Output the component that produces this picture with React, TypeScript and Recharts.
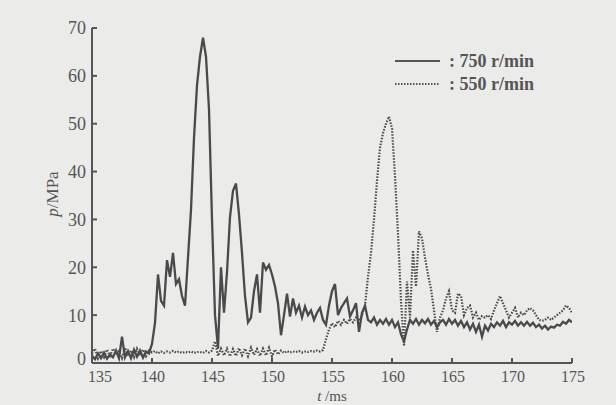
import React from "react";
import { LineChart, Line, XAxis, YAxis } from "recharts";

const times = [
  135, 135.25, 135.5, 135.75, 136, 136.25, 136.5, 136.75, 137, 137.25, 137.5, 137.75,
  138, 138.25, 138.5, 138.75, 139, 139.25, 139.5, 139.75, 140, 140.25, 140.5, 140.75,
  141, 141.25, 141.5, 141.75, 142, 142.25, 142.5, 142.75, 143, 143.25, 143.5, 143.75,
  144, 144.25, 144.5, 144.75, 145, 145.25, 145.5, 145.75, 146, 146.25, 146.5, 146.75,
  147, 147.25, 147.5, 147.75, 148, 148.25, 148.5, 148.75, 149, 149.25, 149.5, 149.75,
  150, 150.25, 150.5, 150.75, 151, 151.25, 151.5, 151.75, 152, 152.25, 152.5, 152.75,
  153, 153.25, 153.5, 153.75, 154, 154.25, 154.5, 154.75, 155, 155.25, 155.5, 155.75,
  156, 156.25, 156.5, 156.75, 157, 157.25, 157.5, 157.75, 158, 158.25, 158.5, 158.75,
  159, 159.25, 159.5, 159.75, 160, 160.25, 160.5, 160.75, 161, 161.25, 161.5, 161.75,
  162, 162.25, 162.5, 162.75, 163, 163.25, 163.5, 163.75, 164, 164.25, 164.5, 164.75,
  165, 165.25, 165.5, 165.75, 166, 166.25, 166.5, 166.75, 167, 167.25, 167.5, 167.75,
  168, 168.25, 168.5, 168.75, 169, 169.25, 169.5, 169.75, 170, 170.25, 170.5, 170.75,
  171, 171.25, 171.5, 171.75, 172, 172.25, 172.5, 172.75, 173, 173.25, 173.5, 173.75,
  174, 174.25, 174.5, 174.75, 175,
];

const p750 = [
  1.5, 0.8, 2.0, 1.0,
  2.2, 0.9, 1.8, 1.2,
  2.6, 1.0, 5.5, 1.2,
  2.5, 1.0, 2.8, 1.3,
  2.6, 1.1, 2.4, 2.0,
  4.0, 8.4, 18.5, 13.0,
  12.0, 21.5, 18.0, 23.0,
  16.5, 17.5, 14.0, 12.0,
  22.0, 32.0, 47.0, 58.0,
  64.0, 68.0, 64.0, 53.0,
  30.0, 10.0, 3.0, 20.0,
  10.5, 19.0, 30.5, 36.0,
  37.5, 31.0, 23.0, 14.0,
  8.5, 9.5, 15.0, 18.5,
  10.5, 21.0, 19.5, 20.5,
  18.5, 16.0, 12.5, 5.8,
  10.0, 14.5, 9.7, 13.5,
  10.5, 12.0, 9.5, 11.8,
  10.0, 11.0, 9.0, 10.5,
  11.5, 9.0, 8.0, 12.0,
  15.0, 16.5, 10.0, 11.5,
  12.5, 13.5, 9.7, 11.0,
  12.5, 6.5, 10.5, 12.0,
  9.0, 8.5, 9.5, 8.0,
  9.0, 8.2, 9.2, 8.0,
  9.0, 7.5, 8.5, 6.0,
  4.5, 7.0, 9.0, 8.2,
  9.2, 8.0, 9.0, 8.3,
  9.2, 8.0, 8.8, 7.5,
  8.5, 9.0, 8.0, 9.2,
  8.2, 9.0, 7.8, 8.8,
  7.5, 8.5, 7.0, 8.2,
  6.5, 8.0, 5.5, 7.8,
  6.8, 8.2, 7.5, 8.5,
  7.8, 8.8, 7.5, 8.5,
  8.0, 8.8, 7.8, 8.5,
  7.8, 8.6, 7.8, 8.4,
  7.5, 8.0, 7.2, 7.8,
  7.0, 7.6, 7.4, 8.0,
  7.8, 8.6, 8.2, 9.0,
  8.5,
];

const p550 = [
  2.0, 3.0, 1.0, 2.5,
  1.2, 2.8, 1.5, 3.0,
  1.8, 2.5, 1.0, 3.2,
  1.5, 2.6, 1.2, 3.0,
  1.6, 2.8, 1.4, 2.6,
  2.2, 2.5, 2.0, 2.4,
  2.1, 2.4, 2.2, 2.5,
  2.2, 2.4, 2.1, 2.3,
  2.2, 2.4, 2.1, 2.3,
  2.3, 2.1, 2.5, 2.2,
  2.6, 4.5, 1.5, 3.0,
  1.6, 3.0, 1.4, 2.9,
  1.5, 3.1, 1.6, 3.0,
  1.4, 3.2, 1.7, 2.9,
  1.5, 3.0, 1.6, 3.2,
  1.4, 2.8, 1.8, 2.6,
  2.1, 2.5, 2.2, 2.4,
  2.3, 2.5, 2.2, 2.4,
  2.3, 2.5, 2.4, 2.6,
  2.4, 2.7, 5.0, 7.0,
  8.3, 7.5, 8.8, 8.0,
  9.0, 8.2, 9.2, 8.5,
  9.5, 8.8, 10.0, 12.0,
  18.0, 23.0, 30.0, 38.0,
  45.0, 48.0, 50.0, 51.5,
  49.0, 39.0, 27.0, 13.0,
  3.5, 17.0, 9.5, 23.5,
  16.0, 27.5, 26.0, 22.0,
  18.5, 15.5, 11.0, 6.5,
  9.5, 11.0, 13.5, 15.0,
  11.0, 10.5, 14.5, 14.0,
  10.0, 11.5, 12.0, 9.5,
  10.5, 9.0, 9.8, 9.5,
  10.0, 9.2, 11.0, 12.5,
  14.0, 12.5, 11.0, 9.5,
  10.5, 11.5, 9.5, 10.5,
  10.0, 11.0, 11.5, 11.0,
  10.0, 9.0, 8.8, 9.0,
  9.5, 9.0, 9.5, 10.0,
  10.5, 11.0, 12.0, 11.5,
  10.5,
];

const xTicks = [135, 140, 145, 150, 155, 160, 165, 170, 175];
const yTicks = [0, 10, 20, 30, 40, 50, 60, 70];
const seriesNames = [": 750 r/min", ": 550 r/min"];

const data = times.map((t, i) => ({ t, a: p750[i], b: p550[i] }));

const INK = "#555555";
const FONT = "'Liberation Serif', 'DejaVu Serif', serif";

const XTick = (props: any) => {
  const { x, y, payload, index } = props;
  const shift = index === 0 ? 8 : 1;
  return (
    <text
      x={x + shift}
      y={y}
      dy="0.71em"
      textAnchor="middle"
      fontFamily={FONT}
      fontSize={16}
      fill={INK}
    >
      {payload.value}
    </text>
  );
};

const YTick = (props: any) => {
  const { x, y, payload, index } = props;
  const lift = index === 0 ? -4 : 0;
  return (
    <text
      x={x}
      y={y + lift}
      dy="0.355em"
      textAnchor="end"
      fontFamily={FONT}
      fontSize={18}
      fill={INK}
    >
      {payload.value}
    </text>
  );
};

const LegendBox = () => (
  <svg
    width={190}
    height={52}
    style={{ position: "absolute", left: 393, top: 46 }}
  >
    <line x1={2} y1={15} x2={47} y2={15} stroke={INK} strokeWidth={2} />
    <text x={56} y={21} fontFamily={FONT} fontSize={18} fontWeight="bold" fill={INK}>
      {seriesNames[0]}
    </text>
    <line x1={2} y1={38} x2={47} y2={38} stroke={INK} strokeWidth={2} strokeDasharray="1.5 1.5" />
    <text x={56} y={44} fontFamily={FONT} fontSize={18} fontWeight="bold" fill={INK}>
      {seriesNames[1]}
    </text>
  </svg>
);

const YLabel = () => (
  <text
    x={58}
    y={194}
    transform="rotate(-90 58 194)"
    textAnchor="middle"
    fontFamily={FONT}
    fontSize={17}
    fill={INK}
  >
    <tspan fontStyle="italic">p</tspan>
    <tspan>/MPa</tspan>
  </text>
);

const XLabel = () => (
  <text x={332} y={401} textAnchor="middle" fontFamily={FONT} fontSize={15} fill={INK}>
    <tspan fontStyle="italic">t</tspan>
    <tspan> /ms</tspan>
  </text>
);

export default function App() {
  return (
    <div
      style={{
        position: "absolute",
        left: 0,
        top: 0,
        width: 616,
        height: 405,
        background: "#ebebea",
      }}
    >
      <LineChart
        width={616}
        height={405}
        data={data}
        margin={{ top: 28, right: 44, bottom: 0, left: 0 }}
      >
        <XAxis
          dataKey="t"
          type="number"
          domain={[135, 175]}
          ticks={xTicks}
          interval={0}
          allowDataOverflow
          stroke={INK}
          strokeWidth={2}
          tickSize={-5}
          tickMargin={13}
          tick={<XTick />}
          height={42}
          label={{ content: <XLabel /> }}
        />
        <YAxis
          type="number"
          domain={[0, 70]}
          ticks={yTicks}
          interval={0}
          width={92}
          stroke={INK}
          strokeWidth={2}
          tickSize={-5}
          tickMargin={11}
          tick={<YTick />}
          label={{ content: <YLabel /> }}
        />
        <Line
          dataKey="a"
          stroke="#4a4a4a"
          strokeWidth={2.3}
          dot={false}
          isAnimationActive={false}
          type="linear"
        />
        <Line
          dataKey="b"
          stroke="#4a4a4a"
          strokeWidth={2.2}
          strokeDasharray="1.5 1.5"
          dot={false}
          isAnimationActive={false}
          type="linear"
        />
      </LineChart>
      <LegendBox />
    </div>
  );
}
